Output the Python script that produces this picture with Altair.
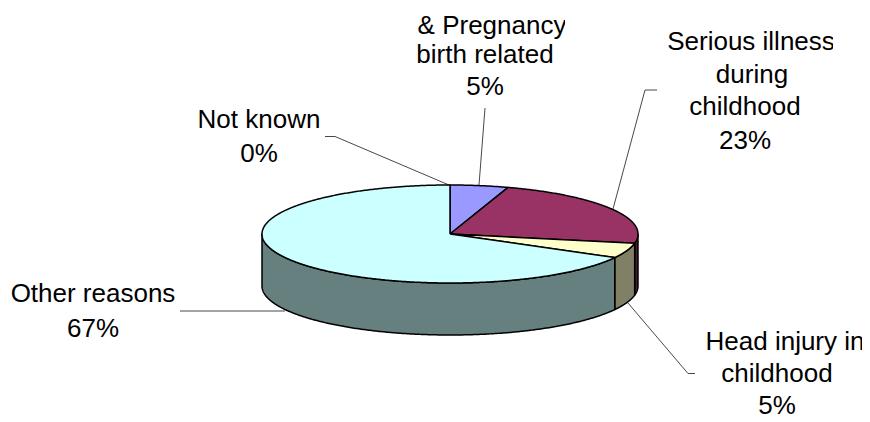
import numpy as np
import pandas as pd
import altair as alt

# Slice data, clockwise from twelve o'clock
names = ["Pregnancy", "Illness", "Head", "Other", "Unknown"]
shares = [5, 23, 5, 67, 0]
top_colors = ["#9999FF", "#993366", "#FFFFCC", "#CCFFFF", "#CCFFFF"]
side_colors = ["#4D4D80", "#4D1A33", "#808066", "#668080", "#668080"]

# Text lines of the labels
label_text = ["& Pregnancy", "birth related", "5%",
              "Serious illness", "during", "childhood", "23%",
              "Head injury in", "childhood", "5%",
              "Other reasons", "67%",
              "Not known", "0%"]
label_x = [492, 485, 485, 751, 752, 745, 745, 785, 777, 777, 93, 93, 259, 259]
label_y = [26, 55, 87, 42, 75, 107, 141, 342, 374, 406, 294, 329, 120, 154]

# Leader lines
leader_id = [0, 0, 1, 1, 1, 2, 2, 2, 3, 3, 4, 4, 4]
leader_x = [485, 479, 657, 645, 613, 695, 688, 628, 180, 285, 325, 335, 449]
leader_y = [108, 185, 90, 90, 209, 373.5, 373.5, 303, 311, 311, 136.5, 136.5, 185]

# Pie geometry
CX, CY, RX, RY, DEPTH = 450, 234, 188, 49, 52
W, H = 854, 414
xs = alt.X("x:Q", axis=None, scale=alt.Scale(domain=[8, 8 + W], range=[0, W], nice=False, zero=False))
ys = alt.Y("y:Q", axis=None, scale=alt.Scale(domain=[8, 8 + H], range=[0, H], nice=False, zero=False))


def arc(t0, t1, dz=0):
    t = np.radians(np.linspace(t0, t1, max(2, int(abs(t1 - t0) * 2) + 2)))
    return CX + RX * np.sin(t), CY - RY * np.cos(t) + dz


def polygon(px, py, fill):
    px = np.append(px, px[0])
    py = np.append(py, py[0])
    df = pd.DataFrame({"x": px, "y": py, "o": np.arange(len(px))})
    return alt.Chart(df).mark_line(
        fill=fill, stroke="#000000", strokeWidth=1.5, strokeJoin="round", clip=False
    ).encode(x=xs, y=ys, order="o:Q")


edges = np.concatenate([[0], np.cumsum(shares)]) * 3.6
layers = []

leaders = pd.DataFrame({"id": leader_id, "x": leader_x, "y": leader_y, "o": range(len(leader_x))})
layers.append(alt.Chart(leaders).mark_line(stroke="#333333", strokeWidth=0.9).encode(
    x=xs, y=ys, detail="id:N", order="o:Q"))

# Side walls, visible for the front half of the rim only
for i in range(len(shares)):
    a, b = max(edges[i], 90), min(edges[i + 1], 270)
    if b > a:
        x1, y1 = arc(a, b)
        x2, y2 = arc(b, a, DEPTH)
        layers.append(polygon(np.r_[x1, x2], np.r_[y1, y2], side_colors[i]))

# Top faces
for i in range(len(shares)):
    if shares[i] > 0:
        x1, y1 = arc(edges[i], edges[i + 1])
        layers.append(polygon(np.r_[CX, x1], np.r_[CY, y1], top_colors[i]))

labels = pd.DataFrame({"x": label_x, "y": label_y, "t": label_text})
layers.append(alt.Chart(labels).mark_text(
    font="Liberation Sans", fontSize=26, color="#000000", align="center", baseline="middle"
).encode(x=xs, y=ys, text="t:N"))

# The source image cuts two labels off on the right
mask = pd.DataFrame({"x": [565, 833], "x2": [600, 860], "y": [10, 25], "y2": [42, 60]})
layers.append(alt.Chart(mask).mark_rect(color="#FFFFFF").encode(
    x=xs, x2="x2:Q", y=ys, y2="y2:Q"))

chart = alt.layer(*layers).properties(
    width=W, height=H, padding=0, autosize="none", background="#FFFFFF"
).configure_view(stroke=None)

chart.save("out.html", embed_options={"renderer": "svg", "actions": False})
